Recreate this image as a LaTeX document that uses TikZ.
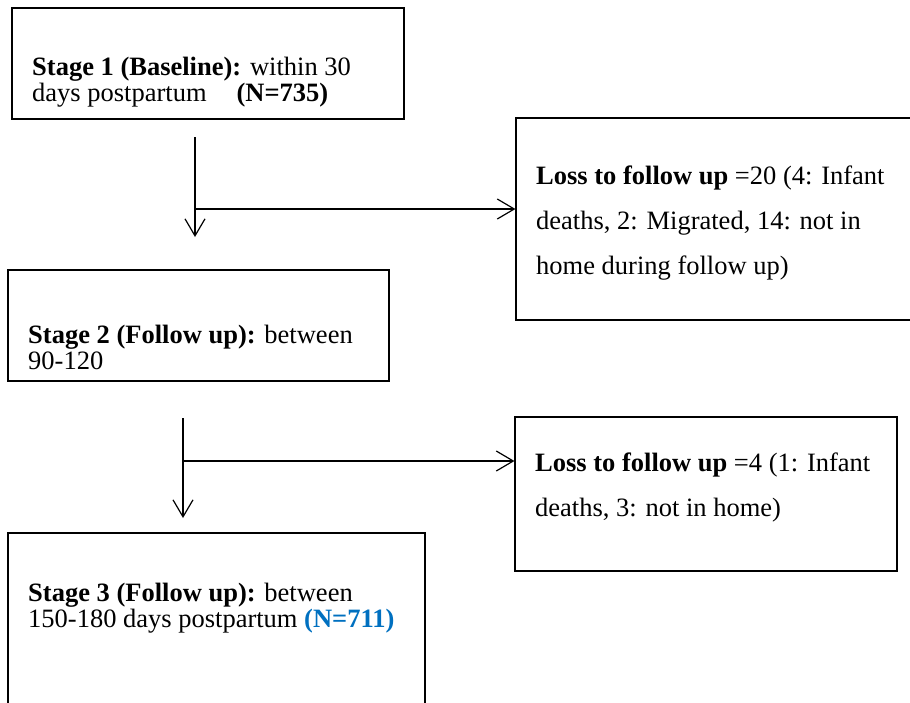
\documentclass[tikz,border=0pt]{standalone}
\usepackage{fontspec}
\setmainfont{Liberation Serif}
\usetikzlibrary{arrows.meta,positioning,calc}
\definecolor{nblue}{RGB}{0,112,192}

\begin{document}
\begin{tikzpicture}[x=1pt,y=-1pt,
        box/.style={draw,line width=1.1pt,rectangle,inner sep=0pt},
        stagetext/.style={anchor=base west,inner sep=0pt,align=left,font=\fontsize{26.5}{26}\selectfont},
        losstext/.style={anchor=base west,inner sep=0pt,align=left,font=\fontsize{26.5}{45}\selectfont},
        flow/.style={line width=1.2pt,-{Straight Barb[length=17pt,width=20pt]}}]
        \useasboundingbox (0,0) rectangle (910,702);

        %%%% Stages =====================================
        % Boxes
        \node[box,minimum width=392pt,minimum height=111pt] (s1) at (208,63.5) {};
        \node[box,minimum width=381pt,minimum height=111pt] (s2) at (198.5,325.5) {};
        \node[box,minimum width=417pt,minimum height=190pt] (s3) at (216.5,628) {};

        % Texts (placed at the baseline of their last line)
        \node[stagetext] (s1txt) at (32,101) {\textbf{Stage 1 (Baseline):} within 30\\days postpartum\hspace{30pt}\textbf{(N=735)}};
        \node[stagetext] (s2txt) at (28,369) {\textbf{Stage 2 (Follow up):} between\\90-120};
        \node[stagetext] (s3txt) at (28,627) {\textbf{Stage 3 (Follow up):} between\\150-180 days postpartum \textcolor{nblue}{\textbf{(N=711)}}};

        %%%% Losses =====================================
        % Boxes
        \node[box,minimum width=400pt,minimum height=202pt] (l1) at (716,219) {};
        \node[box,minimum width=382pt,minimum height=154pt] (l2) at (706,494) {};

        % Texts
        \node[losstext] (l1txt) at (536,274) {\textbf{Loss to follow up} =20 (4: Infant\\deaths, 2: Migrated, 14: not in\\home during follow up)};
        \node[losstext] (l2txt) at (535,516) {\textbf{Loss to follow up} =4 (1: Infant\\deaths, 3: not in home)};

        %%%% Arrows =====================================
        \coordinate (a1top) at (195,137);
        \coordinate (a1bot) at (195,237);
        \coordinate (a1mid) at (195,209);
        \coordinate (a2top) at (183,418);
        \coordinate (a2bot) at (183,518);
        \coordinate (a2mid) at (183,461);

        \draw[flow] (a1top) -- (a1bot);
        \draw[flow] (a1mid) -- (a1mid -| l1.west);
        \draw[flow] (a2top) -- (a2bot);
        \draw[flow] (a2mid) -- (a2mid -| l2.west);
    \end{tikzpicture}
\end{document}
